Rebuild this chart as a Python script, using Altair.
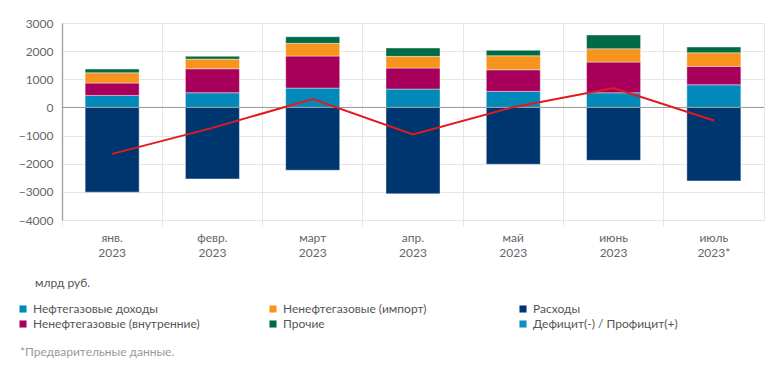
import altair as alt
import pandas as pd

months = ["янв. 2023", "февр. 2023", "март 2023", "апр. 2023", "май 2023", "июнь 2023", "июль 2023*"]
oil_gas = [427, 520, 687, 651, 569, 520, 804]
non_oil_internal = [438, 854, 1139, 748, 769, 1092, 655]
non_oil_import = [366, 345, 452, 416, 498, 473, 484]
other = [132, 96, 234, 295, 192, 488, 203]
expenditures = [-3010, -2540, -2230, -3070, -2020, -1880, -2610]
deficit = [-1650, -726, 300, -961, 10, 690, -463]

stack_series = ["Нефтегазовые доходы", "Ненефтегазовые (внутренние)", "Ненефтегазовые (импорт)", "Прочие", "Расходы"]
legend_order = ["Нефтегазовые доходы", "Ненефтегазовые (внутренние)", "Ненефтегазовые (импорт)",
                "Прочие", "Расходы", "Дефицит(-) / Профицит(+)"]
legend_colors = ["#0089b9", "#a8005a", "#f7941d", "#006b45", "#00366f", "#0a90c2"]

rows = []
for i, m in enumerate(months):
    for k, (name, vals) in enumerate(zip(stack_series, [oil_gas, non_oil_internal, non_oil_import, other, expenditures])):
        rows.append({"month": m, "series": name, "value": vals[i], "ord": k})
bars_df = pd.DataFrame(rows)
line_df = pd.DataFrame({"month": months, "value": deficit})
zero_df = pd.DataFrame({"v": [0]})

x_enc = alt.X(
    "month:N", sort=months,
    scale=alt.Scale(paddingInner=0, paddingOuter=0),
    axis=alt.Axis(title=None, bandPosition=0, labelAngle=0,
                  labelExpr="split(datum.label, ' ')", grid=True, gridColor="#e6e6e6",
                  tickColor="#e6e6e6", tickSize=6, domain=False, labelColor="#666",
                  labelFontSize=12, labelPadding=6, labelLineHeight=15, labelOverlap=False),
)
y_scale = alt.Scale(domain=[-4000, 3000], nice=False)
y_axis = alt.Axis(values=list(range(-4000, 3001, 1000)), format="d", title=None, gridColor="#e6e6e6",
                  domainColor="#aaaaaa", domainWidth=1.5, ticks=False, labelColor="#666",
                  labelFontSize=12, labelPadding=9)

bars = alt.Chart(bars_df).mark_bar(size=54, stroke="#ffffff", strokeWidth=0.4).encode(
    x=x_enc,
    y=alt.Y("value:Q", stack="zero", scale=y_scale, axis=y_axis),
    color=alt.Color("series:N", scale=alt.Scale(domain=legend_order, range=legend_colors),
                    legend=alt.Legend(title=None, orient="none", legendX=-45, legendY=280,
                                      columns=3, symbolType="square", symbolSize=50,
                                      symbolStrokeWidth=0, labelFontSize=12, labelColor="#555",
                                      gridAlign="all", columnPadding=67, rowPadding=3,
                                      labelLimit=300)),
    order=alt.Order("ord:Q"),
)

zero = alt.Chart(zero_df).mark_rule(color="#999999", strokeWidth=1).encode(
    y=alt.Y("v:Q", scale=y_scale, axis=y_axis)
)

line = alt.Chart(line_df).mark_line(color="#e3191f", strokeWidth=2).encode(
    x=x_enc,
    y=alt.Y("value:Q", scale=y_scale, axis=y_axis),
)

unit_text = alt.Chart(pd.DataFrame({"t": ["млрд руб."]})).mark_text(
    align="left", baseline="middle", fontSize=12, color="#555"
).encode(x=alt.value(-27), y=alt.value(260), text="t:N")

note_text = alt.Chart(pd.DataFrame({"t": ["*Предварительные данные."]})).mark_text(
    align="left", baseline="middle", fontSize=12, color="#999"
).encode(x=alt.value(-42), y=alt.value(329), text="t:N")

chart = alt.layer(bars, zero, line, unit_text, note_text).properties(
    width=702, height=197, autosize="none",
    padding={"left": 54, "top": 15, "right": 12, "bottom": 149},
).configure(font="Lato").configure_view(stroke="#e6e6e6")

chart.save("out.html", embed_options={"renderer": "svg", "actions": False})
